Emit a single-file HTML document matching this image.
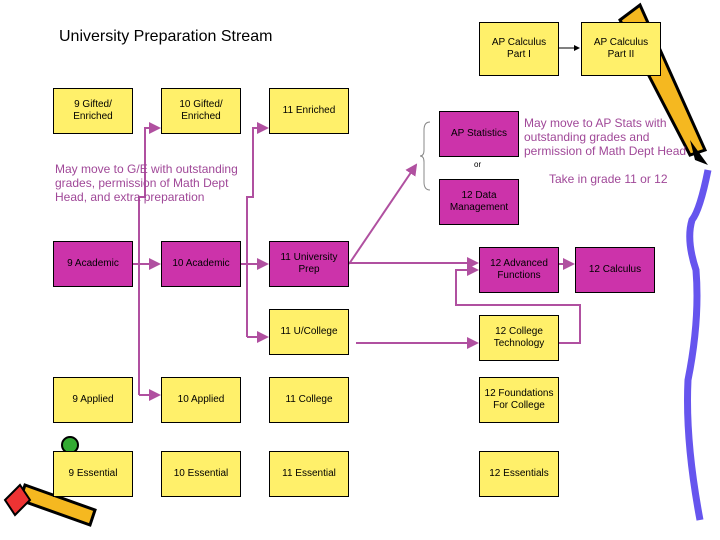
<!DOCTYPE html>
<html><head><style>
body{margin:0;width:720px;height:540px;background:#fff;position:relative;overflow:hidden;font-family:"Liberation Sans",sans-serif}
.b{position:absolute;border:1px solid #000;box-sizing:border-box;display:flex;align-items:center;justify-content:center;text-align:center;font-size:10px;line-height:12px;color:#000}
.y{background:#FFF06A}.m{background:#CC33AA}
.t{position:absolute;color:#A04898;font-size:12px;line-height:14px}
</style></head><body>
<div style="position:absolute;left:59px;top:28px;font-size:16px">University Preparation Stream</div>
<svg width="720" height="540" style="position:absolute;left:0;top:0">
<defs><marker id="a" markerWidth="6" markerHeight="6" refX="5" refY="3" orient="auto"><path d="M0,0L6,3L0,6z" fill="#B050A0"/></marker>
<marker id="k" markerWidth="6" markerHeight="6" refX="5" refY="3" orient="auto"><path d="M0,0L6,3L0,6z" fill="#000"/></marker></defs>
<g stroke="#B050A0" stroke-width="2" fill="none">
<path d="M139,395H159" marker-end="url(#a)"/>
<path d="M139,395V197H145V128H159" marker-end="url(#a)"/>
<path d="M247,337H267" marker-end="url(#a)"/>
<path d="M247,337V197H253V128H267" marker-end="url(#a)"/>
<path d="M133,264H159" marker-end="url(#a)"/>
<path d="M241,264H267" marker-end="url(#a)"/>
<path d="M349,264L416,165" marker-end="url(#a)"/>
<path d="M349,263H477" marker-end="url(#a)"/>
<path d="M558,264H573" marker-end="url(#a)"/>
<path d="M356,343H477" marker-end="url(#a)"/>
<path d="M558,343H580V305H456V270H477" marker-end="url(#a)"/>
</g>
<path d="M559,48H579" stroke="#000" stroke-width="1" marker-end="url(#k)"/>
<path d="M430,122Q424,122 424,130V150Q424,156 420,156Q424,156 424,162V182Q424,190 430,190" stroke="#888" fill="none"/>
<path d="M708,170 Q700,210 692,220 Q686,240 696,270 Q700,320 688,380 Q685,440 700,520" stroke="#6655EE" stroke-width="7" fill="none"/>
<path d="M640,5 L705,150 L690,155 L620,20z" fill="#F5B820" stroke="#000" stroke-width="3"/>
<path d="M690,140 L708,165 L695,160z" fill="#000"/>
<path d="M20,500 L90,525 L95,510 L25,485z" fill="#F5B820" stroke="#000" stroke-width="3"/>
<circle cx="70" cy="445" r="8" fill="#3A3" stroke="#000" stroke-width="2"/>
<path d="M5,500 L20,485 L30,500 L15,515z" fill="#E33" stroke="#000" stroke-width="2"/>
</svg>
<div class="b y" style="left:53px;top:88px;width:80px;height:46px">9 Gifted/<br>Enriched</div>
<div class="b y" style="left:161px;top:88px;width:80px;height:46px">10 Gifted/<br>Enriched</div>
<div class="b y" style="left:269px;top:88px;width:80px;height:46px">11 Enriched</div>
<div class="b y" style="left:479px;top:22px;width:80px;height:54px">AP Calculus<br>Part I</div>
<div class="b y" style="left:581px;top:22px;width:80px;height:54px">AP Calculus<br>Part II</div>
<div class="b m" style="left:439px;top:111px;width:80px;height:46px">AP Statistics</div>
<div style="position:absolute;left:474px;top:160px;font-size:8px">or</div>
<div class="b m" style="left:439px;top:179px;width:80px;height:46px">12 Data<br>Management</div>
<div class="b m" style="left:53px;top:241px;width:80px;height:46px">9 Academic</div>
<div class="b m" style="left:161px;top:241px;width:80px;height:46px">10 Academic</div>
<div class="b m" style="left:269px;top:241px;width:80px;height:46px">11 University<br>Prep</div>
<div class="b m" style="left:479px;top:247px;width:80px;height:46px">12 Advanced<br>Functions</div>
<div class="b m" style="left:575px;top:247px;width:80px;height:46px">12 Calculus</div>
<div class="b y" style="left:269px;top:309px;width:80px;height:46px">11 U/College</div>
<div class="b y" style="left:479px;top:315px;width:80px;height:46px">12 College<br>Technology</div>
<div class="b y" style="left:53px;top:377px;width:80px;height:46px">9 Applied</div>
<div class="b y" style="left:161px;top:377px;width:80px;height:46px">10 Applied</div>
<div class="b y" style="left:269px;top:377px;width:80px;height:46px">11 College</div>
<div class="b y" style="left:479px;top:377px;width:80px;height:46px">12 Foundations<br>For College</div>
<div class="b y" style="left:53px;top:451px;width:80px;height:46px">9 Essential</div>
<div class="b y" style="left:161px;top:451px;width:80px;height:46px">10 Essential</div>
<div class="b y" style="left:269px;top:451px;width:80px;height:46px">11 Essential</div>
<div class="b y" style="left:479px;top:451px;width:80px;height:46px">12 Essentials</div>
<div class="t" style="left:55px;top:162px">May move to G/E with outstanding<br>grades, permission of Math Dept<br>Head, and extra preparation</div>
<div class="t" style="left:524px;top:116px">May move to AP Stats with<br>outstanding grades and<br>permission of Math Dept Head</div>
<div class="t" style="left:549px;top:172px">Take in grade 11 or 12</div>
</body></html>
